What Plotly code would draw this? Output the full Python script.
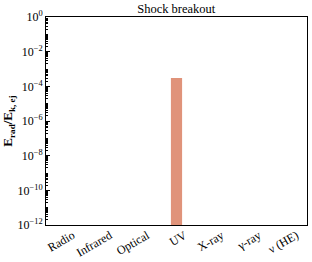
import plotly.graph_objects as go

categories = ["Radio", "Infrared", "Optical", "UV", "X-ray", "γ-ray", "ν (HE)"]
values = [None, None, None, 3e-4, None, None, None]
major_exps = [0, -2, -4, -6, -8, -10, -12]

bar_color = "#E0937A"
font_family = "Liberation Serif, Times New Roman, serif"

major_vals = [10.0 ** e for e in major_exps]
major_text = [f"10<sup>{e if e >= 0 else '−' + str(-e)}</sup>" for e in major_exps]
minor_vals = [m * 10.0 ** k for k in range(-12, 0) for m in range(2, 10)] + [10.0 ** k for k in range(-11, 0, 2)]

fig = go.Figure()
fig.add_trace(go.Bar(x=categories, y=values, marker=dict(color=bar_color, line=dict(width=0)),
                     width=0.3))

axis_common = dict(showline=True, linecolor="black", linewidth=1, mirror=True, showgrid=False,
                   zeroline=False, automargin=False)

fig.update_layout(
    width=312, height=262,
    margin=dict(l=46, r=5, t=17, b=37),
    plot_bgcolor="white", paper_bgcolor="white",
    font=dict(family=font_family, color="black", size=12),
    title=dict(text="Shock breakout", x=0.565, xanchor="center", y=0.985, yanchor="top",
               font=dict(size=12.5, family=font_family)),
    showlegend=False,
    xaxis=dict(**axis_common, ticks="", tickangle=-30, tickfont=dict(size=12),
               ticklabelshift=8, ticklabelstandoff=-2,
               range=[-0.5, 6.5]),
    yaxis=dict(**axis_common, type="log", range=[-12, 0],
               tickmode="array", tickvals=major_vals, ticktext=major_text,
               ticks="inside", ticklen=4, tickcolor="black", tickfont=dict(size=12),
               minor=dict(tickmode="array", tickvals=minor_vals, ticks="inside", ticklen=2,
                          tickcolor="black", showgrid=False),
               title=dict(text="<b>E<sub>rad</sub>/E<sub>k, ej</sub></b>", font=dict(size=13), standoff=5)),
)

fig.write_html("out.html", config={"displayModeBar": False},
               post_script="document.body.style.margin='0';")
